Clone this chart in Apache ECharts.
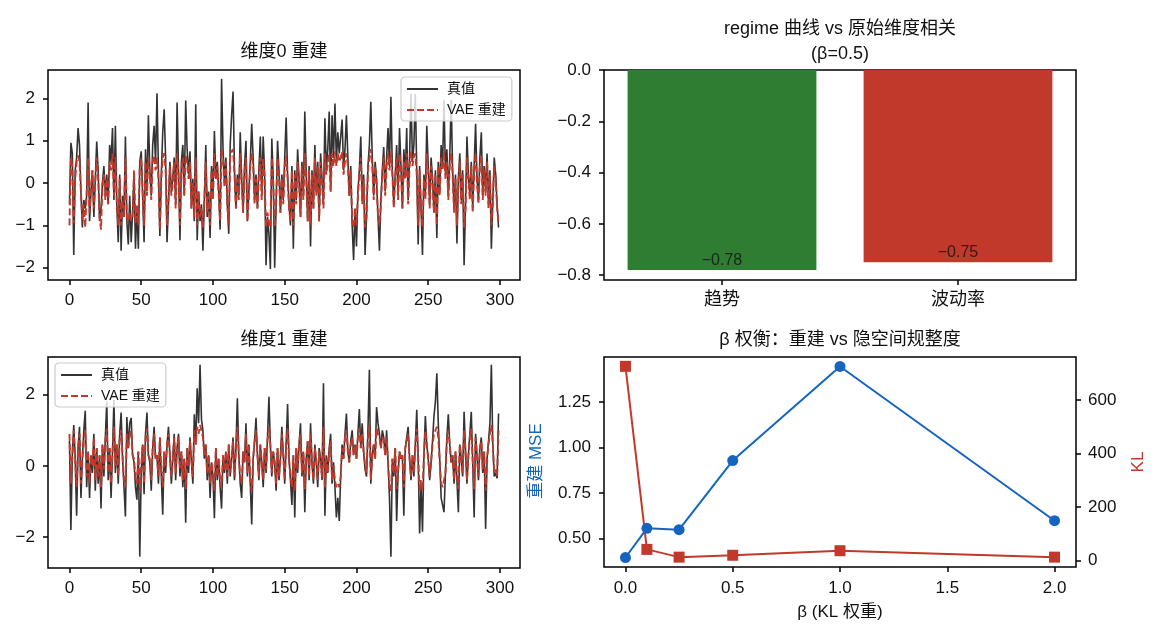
<!DOCTYPE html>
<html>
<head>
<meta charset="utf-8">
<script src="https://cdn.jsdelivr.net/npm/echarts@6/dist/echarts.min.js"></script>
<style>
html, body { margin: 0; padding: 0; background: #fff; }
#main { width: 1160px; height: 637px; }
</style>
</head>
<body>
<div id="main"></div>
<script>
// 维度0 真值 / 重建
var dim0True = [
    -0.5, 0.95, 0.7, -1.7, 0.3, 0.6, 1.3, 0.9, -0.2, -1.05,
    -0.4, -0.6, -0.3, 1.9, -0.9, -0.2, 0.3, -0.8, 0.1, 0.98,
    0.3, -0.9, -0.6, 0.0, 0.4, -0.3, 0.2, -0.5, 0.9, 0.5,
    1.3, -0.4, 1.35, -0.5, -1.4, 0.2, -1.6, -0.3, -0.8, 1.1,
    -0.9, -1.45, -0.3, -1.4, -0.7, 0.2, -1.55, -0.6, -1.55, 0.5,
    0.75, -0.3, -1.4, 0.8, -0.2, 1.6, 0.3, -0.3, 0.9, 1.35,
    0.5, 2.12, 0.3, -1.25, 0.2, 1.2, 1.74, 0.6, -1.4, -0.5,
    0.5, -0.2, 0.1, 0.6, -0.5, 1.9, 0.3, -1.35, 0.5, 0.9,
    -0.3, 1.95, 0.8, 0.2, 0.75, -0.6, 0.1, -0.9, 1.86, -1.35,
    -0.2, -0.9, -0.5, -1.6, -0.4, 0.9, -0.8, -0.2, -1.3, 0.4,
    -0.3, 1.23, 0.1, 0.5, -0.2, -1.1, 2.46, 0.8, 0.0, 0.6,
    -0.5, -1.2, 0.9, 1.6, 2.16, 0.3, -0.6, 0.2, -0.3, 1.2,
    0.1, -0.7, 0.4, 1.0, -0.9, -0.2, 0.5, 1.4, 0.6, -0.4,
    0.2, -0.6, 0.3, 1.1, -0.3, 1.1, 0.2, -1.94, -0.8, -1.2,
    -2.03, 1.05, 0.1, -2.0, -0.5, 1.0, 0.3, -0.7, 0.2, -0.4,
    0.6, 1.55, 0.2, -0.5, -1.0, 0.4, -1.55, 0.3, -0.4, 0.8,
    0.1, -0.8, 0.5, -0.3, 1.69, 0.2, -0.9, 0.4, -1.5, 0.3,
    -0.6, 0.9, -0.2, 0.5, -0.9, 0.7, 0.1, -0.5, 1.53, 0.3,
    0.8, 1.69, -0.2, 1.6, 0.6, 1.88, 0.5, 1.2, 0.7, 1.1,
    1.5, 0.3, 0.8, 1.6, 0.6, -0.3, 0.4, -1.0, -1.82, -0.6,
    -1.5, -0.2, 0.3, 1.1, -0.4, 0.2, -1.7, -0.8, 0.4, 0.9,
    1.92, 0.6, -0.3, 0.5, 0.1, -0.8, -1.6, -0.4, 0.3, 0.85,
    -0.2, 0.6, 1.3, 0.4, 2.04, 0.3, -0.5, 0.2, 0.9, -0.3,
    1.3, 0.4, -0.6, 0.8, 0.2, 1.3, -0.4, 0.6, 2.1, 0.5,
    0.9, 2.1, 0.3, -1.45, 0.4, -0.6, -1.7, 0.2, -0.3, 1.35,
    0.4, -0.5, 0.6, 0.1, -0.7, 0.3, -1.3, 0.5, -0.2, 0.9,
    0.4, 1.96, 0.2, 0.8, -0.3, 0.6, 1.96, 0.3, -0.6, 0.2,
    -1.43, 0.1, 0.7, -0.4, 0.3, -1.94, -0.5, 1.1, 0.2, -0.3,
    0.5, -0.6, 0.4, 1.4, 0.1, -0.4, 0.6, 1.2, -0.3, 0.4,
    -0.2, 0.7, -0.5, 0.3, -1.55, -0.4, 0.6, 0.2, -0.5, -1.05
];
var dim0Recon = [
    -1.0, 0.6, 0.4, -0.95, 0.1, 0.5, 0.65, 0.5, -0.2, -0.9,
    -0.5, -1.05, -0.2, 0.6, -0.7, -0.1, 0.3, -0.6, 0.0, 0.6,
    0.1, -0.8, -1.1, 0.0, 0.2, -0.4, 0.1, -0.5, 0.5, 0.3,
    0.7, -0.3, 0.6, -0.5, -1.0, 0.1, -1.0, -0.4, -0.8, 0.6,
    -0.8, -0.9, -0.7, -0.9, -0.8, 0.3, -0.95, -0.5, -1.0, 0.4,
    0.6, -0.2, -1.0, 0.5, -0.3, 0.6, 0.2, -0.4, 0.5, 0.65,
    0.3, 0.6, 0.1, -1.1, 0.1, 0.6, 0.7, 0.3, -1.0, -0.4,
    0.4, -0.3, 0.0, 0.5, -0.6, 0.7, 0.2, -1.0, 0.3, 0.6,
    -0.3, 0.65, 0.5, 0.1, 0.5, -0.6, 0.0, -0.8, 0.6, -1.0,
    -0.2, -0.8, -0.6, -1.05, -0.4, 0.5, -0.7, -0.3, -1.0, 0.3,
    -0.4, 0.7, 0.1, 0.4, -0.3, -0.9, 0.8, 0.6, -0.1, 0.5,
    -0.5, -1.0, 0.6, 0.75, 0.8, 0.2, -0.6, 0.1, -0.4, 0.7,
    0.0, -0.7, 0.3, 0.6, -0.9, -0.3, 0.4, 0.7, 0.4, -0.5,
    0.1, -0.6, 0.2, 0.6, -0.4, 0.6, 0.1, -1.05, -0.7, -1.0,
    -1.05, 0.6, 0.0, -1.05, -0.5, 0.6, 0.2, -0.7, 0.1, -0.5,
    0.4, 0.65, 0.1, -0.6, -0.9, 0.3, -1.0, 0.2, -0.5, 0.5,
    0.0, -0.8, 0.4, -0.4, 0.7, 0.1, -0.9, 0.3, -1.0, 0.2,
    -0.6, 0.6, -0.3, 0.4, -0.9, 0.5, 0.0, -0.6, 0.7, 0.2,
    0.5, 0.7, -0.2, 0.7, 0.4, 0.75, 0.4, 0.7, 0.5, 0.6,
    0.75, 0.2, 0.5, 0.7, 0.4, -0.3, 0.3, -0.9, -1.05, -0.6,
    -1.0, -0.3, 0.2, 0.6, -0.5, 0.1, -1.05, -0.8, 0.3, 0.6,
    0.8, 0.4, -0.4, 0.4, 0.0, -0.8, -1.0, -0.5, 0.2, 0.6,
    -0.3, 0.4, 0.7, 0.3, 0.75, 0.2, -0.6, 0.1, 0.6, -0.4,
    0.7, 0.3, -0.6, 0.5, 0.1, 0.7, -0.5, 0.4, 0.75, 0.4,
    0.6, 0.7, 0.2, -1.0, 0.3, -0.6, -1.05, 0.1, -0.4, 0.7,
    0.3, -0.6, 0.4, 0.0, -0.7, 0.2, -1.0, 0.4, -0.3, 0.6,
    0.3, 0.75, 0.1, 0.5, -0.4, 0.4, 0.7, 0.2, -0.7, 0.1,
    -1.0, 0.0, 0.5, -0.5, 0.2, -1.05, -0.6, 0.6, 0.1, -0.4,
    0.4, -0.7, 0.3, 0.7, 0.0, -0.5, 0.4, 0.65, -0.4, 0.3,
    -0.3, 0.5, -0.6, 0.2, -1.0, -0.5, 0.4, 0.1, -0.6, -0.95
];
// 维度1 真值 / 重建
var dim1True = [
    0.7, -1.8, 0.3, 1.15, 0.2, -1.4, 0.5, 1.1, -0.9, 0.2,
    1.0, 1.55, -0.6, 0.4, -0.9, 0.3, -0.2, 0.9, -0.7, 0.5,
    -0.5, 0.3, -1.2, 0.6, -0.3, 0.8, 1.8, -0.4, 0.5, -0.9,
    0.4, 1.85, -0.2, 0.6, -0.5, 0.9, 1.5, 0.2, -0.6, -1.42,
    1.37, 0.5, 1.2, 1.35, 0.3, 0.1, -0.6, -0.95, 0.4, -2.55,
    -0.2, 0.6, -0.8, 0.9, 1.5, 0.3, 0.1, -0.7, 0.5, 1.1,
    0.2, 0.3, -0.5, 0.8, -0.3, -1.37, 0.4, -0.2, 0.6, 1.1,
    0.3, -0.5, 0.2, 0.9, -0.4, 0.5, 0.9, -0.3, 0.4, -0.6,
    0.2, -1.6, 0.5, -0.2, 0.8, 0.1, -0.5, 1.45, 0.6, 2.18,
    1.2, 2.84, 1.3, 1.0, 0.2, 0.6, -0.4, 0.3, -0.9, 0.1,
    -0.3, -1.47, 0.5, -0.4, 0.2, -0.6, -1.2, 0.3, -0.2, 0.4,
    -0.5, 0.6, -0.3, 0.2, 0.8, -0.4, 0.5, 1.9, 0.3, -0.5,
    -0.9, 0.4, 0.1, 1.2, -0.3, 0.6, -0.5, -1.65, 0.2, 0.7,
    1.35, 0.3, -0.4, 0.6, 0.1, -0.6, 0.5, -0.2, 0.8, 1.94,
    0.6, -0.3, 0.4, 0.1, -0.7, 0.5, -0.4, 0.2, 1.1, 0.3,
    -0.5, 0.6, 1.74, 0.2, -0.4, -1.1, 0.3, -1.45, 0.5, -0.2,
    0.6, 1.2, -0.3, 0.4, -1.3, 0.2, 0.7, -0.4, 1.2, 0.1,
    -0.5, 0.6, 0.1, -0.6, 0.5, 0.2, -0.4, 2.32, -1.4, 0.3,
    -0.2, 0.5, 0.9, -0.5, 0.1, -0.6, -1.45, -0.9, -1.55, -0.3,
    0.6, 0.2, 0.9, 1.47, 0.4, 0.1, 0.7, 1.0, 0.3, 0.6,
    0.2, 0.9, 1.6, 0.5, 1.2, 0.4, -0.1, -0.3, 1.0, 2.7,
    -0.5, 0.3, 0.6, 0.2, 1.65, 1.2, 0.9, 0.5, 1.0, 0.8,
    0.3, 1.0, 0.1, -0.9, -2.55, 0.2, -0.3, 0.5, -1.55, -0.2,
    0.4, 0.2, 0.3, -1.4, 0.5, 0.8, 1.1, 0.2, -0.4, 0.3,
    -0.3, 0.6, 1.58, 0.2, -1.9, -0.5, -1.85, 0.3, 1.4, 0.6,
    0.2, -0.4, 0.1, 0.7, 1.4, 1.8, 2.6, 1.2, 0.2, -0.9,
    -0.9, -1.3, -0.2, 0.8, 1.45, 0.6, 0.1, 0.3, -0.5, 0.4,
    -0.4, -1.3, 0.6, 0.2, -0.3, 1.52, 0.4, -0.5, 0.3, 0.9,
    1.52, 0.1, -1.45, 0.9, 0.3, -0.4, 0.5, 0.8, -0.2, 0.4,
    -1.77, 0.2, 0.7, 1.2, 2.84, 0.6, -0.3, -0.2, -0.35, 1.47
];
var dim1Recon = [
    0.9, -0.5, 0.3, 1.0, 0.2, -0.6, 0.5, 0.9, -0.5, 0.2,
    0.7, 1.0, -0.3, 0.4, -0.5, 0.3, 0.0, 0.8, -0.4, 0.5,
    -0.3, 0.3, -0.6, 0.6, -0.1, 0.7, 1.05, -0.2, 0.5, -0.5,
    0.4, 1.1, 0.0, 0.6, -0.3, 0.8, 1.0, 0.3, -0.4, -0.6,
    0.9, 0.5, 0.9, 1.0, 0.3, 0.2, -0.3, -0.5, 0.4, -0.7,
    0.0, 0.6, -0.5, 0.8, 1.05, 0.3, 0.2, -0.4, 0.5, 0.9,
    0.2, 0.3, -0.3, 0.8, -0.1, -0.6, 0.4, 0.0, 0.6, 0.9,
    0.3, -0.3, 0.2, 0.8, -0.2, 0.5, 0.8, -0.1, 0.4, -0.4,
    0.2, -0.65, 0.5, 0.0, 0.7, 0.2, -0.3, 1.0, 0.6, 1.1,
    0.9, 1.15, 1.0, 0.8, 0.3, 0.6, -0.2, 0.3, -0.5, 0.1,
    -0.2, -0.7, 0.5, -0.3, 0.2, -0.4, -0.6, 0.3, -0.1, 0.4,
    -0.3, 0.6, -0.2, 0.2, 0.7, -0.3, 0.5, 1.1, 0.3, -0.3,
    -0.5, 0.4, 0.1, 0.9, -0.2, 0.6, -0.4, -0.7, 0.2, 0.7,
    1.0, 0.3, -0.3, 0.6, 0.1, -0.4, 0.5, -0.1, 0.7, 1.1,
    0.6, -0.2, 0.4, 0.1, -0.5, 0.5, -0.3, 0.2, 0.9, 0.3,
    -0.4, 0.6, 1.05, 0.2, -0.3, -0.6, 0.3, -0.7, 0.5, -0.1,
    0.6, 0.9, -0.2, 0.4, -0.65, 0.2, 0.7, -0.3, 0.9, 0.1,
    -0.4, 0.5, 0.1, -0.4, 0.4, 0.1, -0.3, 1.1, -0.6, 0.2,
    -0.2, 0.4, 0.7, -0.4, 0.0, -0.4, -0.6, -0.5, -0.6, -0.3,
    0.5, 0.2, 0.8, 1.0, 0.4, 0.1, 0.6, 0.8, 0.3, 0.6,
    0.2, 0.8, 1.05, 0.5, 0.9, 0.4, 0.0, -0.2, 0.8, 1.15,
    -0.4, 0.3, 0.6, 0.2, 1.05, 0.9, 0.8, 0.5, 0.8, 0.7,
    0.3, 0.8, 0.1, -0.6, -0.7, 0.2, -0.2, 0.5, -0.65, -0.1,
    0.4, 0.2, 0.3, -0.6, 0.5, 0.7, 0.9, 0.2, -0.3, 0.3,
    -0.2, 0.6, 1.05, 0.2, -0.7, -0.4, -0.7, 0.3, 1.0, 0.6,
    0.2, -0.3, 0.1, 0.6, 0.9, 1.0, 1.1, 0.8, 0.1, -0.5,
    -0.6, -0.6, -0.2, 0.7, 1.0, 0.6, 0.1, 0.3, -0.4, 0.4,
    -0.3, -0.65, 0.6, 0.2, -0.2, 1.0, 0.4, -0.4, 0.3, 0.8,
    1.05, 0.1, -0.65, 0.8, 0.3, -0.3, 0.5, 0.7, -0.1, 0.4,
    -0.7, 0.2, 0.6, 0.9, 1.15, 0.6, -0.2, -0.1, -0.3, 1.0
];

// regime 相关
var barNames = ['趋势', '波动率'];
var barValues = [-0.78, -0.75];

// β 权衡
var betas = [0, 0.1, 0.25, 0.5, 1.0, 2.0];
var mseValues = [0.397, 0.557, 0.55, 0.929, 1.445, 0.599];
var klValues = [727, 41, 12, 19, 36, 12];

// 刻度
var stepTicks = [0, 50, 100, 150, 200, 250, 300];
var dim0Ticks = [-2, -1, 0, 1, 2];
var dim1Ticks = [-2, 0, 2];
var barTicks = [0, -0.2, -0.4, -0.6, -0.8];
var betaTicks = [0, 0.5, 1.0, 1.5, 2.0];
var mseTicks = [0.5, 0.75, 1.0, 1.25];
var klTicks = [0, 200, 400, 600];

var FONT = "'Liberation Sans', 'Noto Sans CJK SC', sans-serif";
var BLACK = '#333333';
var RED = '#c0392b';
var GREEN = '#2e7d32';
var BLUE = '#1565c0';
var TICK_SIZE = 17;

function toPairs(xs, ys) {
    return ys.map(function (v, i) { return [xs ? xs[i] : i, v]; });
}
function fmt(d) {
    return function (v) { return Number(v).toFixed(d).replace('-', '\u2212'); };
}

function valAxis(grid, min, max, ticks, digits, margin, extra) {
    var a = {
        type: 'value', gridIndex: grid, min: min, max: max,
        splitLine: {show: false},
        axisLine: {show: false, onZero: false},
        axisTick: {show: true, length: 5, inside: false, customValues: ticks, lineStyle: {color: '#000', width: 1.5}},
        axisLabel: {customValues: ticks, formatter: fmt(digits), color: '#111', fontSize: TICK_SIZE, fontFamily: FONT, margin: margin}
    };
    for (var k in extra) a[k] = extra[k];
    return a;
}

function grid(l, t, w, h) {
    return {left: l, top: t, width: w, height: h, show: true, borderColor: '#000', borderWidth: 1.5, backgroundColor: 'transparent'};
}

function titleText(text, x, y, lh) {
    return {text: text, left: x, top: y, textAlign: 'center', padding: 0,
        textStyle: {fontSize: 18, fontWeight: 'normal', color: '#111', fontFamily: FONT, lineHeight: lh || 22}};
}

var legendCommon = {
    orient: 'vertical',
    data: ['真值', 'VAE 重建'],
    backgroundColor: 'rgba(255,255,255,0.8)',
    borderColor: '#cccccc',
    borderWidth: 1.2,
    borderRadius: 4,
    padding: [5, 6, 4, 5],
    itemGap: 7,
    itemWidth: 31,
    itemHeight: 14,
    itemStyle: {opacity: 0},
    textStyle: {fontSize: 14, fontFamily: FONT, color: '#111', padding: [0, 0, 0, 4]}
};

var option = {
    animation: false,
    backgroundColor: '#fff',
    textStyle: {fontFamily: FONT},
    title: [
        titleText('维度0 重建', 284, 41),
        titleText('维度1 重建', 284, 329),
        titleText('regime 曲线 vs 原始维度相关\n(β=0.5)', 840, 17, 25),
        titleText('β 权衡：重建 vs 隐空间规整度', 840, 329)
    ],
    legend: [
        Object.assign({left: 401, top: 77}, legendCommon),
        Object.assign({left: 55, top: 363}, legendCommon)
    ],
    grid: [
        grid(48, 70, 472, 210),
        grid(48, 357, 472, 211),
        grid(604, 70, 472, 210),
        grid(604, 357, 472, 210)
    ],
    xAxis: [
        valAxis(0, -14.95, 313.95, stepTicks, 0, 12),
        valAxis(1, -14.95, 313.95, stepTicks, 0, 12),
        {
            type: 'category', gridIndex: 2, data: barNames, boundaryGap: true,
            axisLine: {show: false, onZero: false},
            axisTick: {show: true, alignWithLabel: true, length: 5, lineStyle: {color: '#000', width: 1.5}},
            axisLabel: {color: '#111', fontSize: 18, fontFamily: FONT, margin: 11},
            splitLine: {show: false}
        },
        valAxis(3, -0.1, 2.1, betaTicks, 1, 13)
    ],
    yAxis: [
        valAxis(0, -2.29, 2.67, dim0Ticks, 0, 13),
        valAxis(1, -2.87, 3.06, dim1Ticks, 0, 13),
        valAxis(2, -0.819, 0, barTicks, 1, 13),
        valAxis(3, 0.345, 1.497, mseTicks, 2, 13),
        valAxis(3, -25, 762, klTicks, 0, 12, {position: 'right'})
    ],
    graphic: [
        {type: 'text', x: 536, y: 461, rotation: Math.PI / 2,
            style: {text: '重建 MSE', fill: BLUE, font: '17px ' + FONT, textAlign: 'center', textVerticalAlign: 'middle'}},
        {type: 'text', x: 1138, y: 462, rotation: Math.PI / 2,
            style: {text: 'KL', fill: RED, font: '17px ' + FONT, textAlign: 'center', textVerticalAlign: 'middle'}},
        {type: 'text', x: 840, y: 612,
            style: {text: 'β (KL 权重)', fill: '#111', font: '17px ' + FONT, textAlign: 'center', textVerticalAlign: 'middle'}}
    ],
    series: [
        {name: '真值', type: 'line', xAxisIndex: 0, yAxisIndex: 0, data: toPairs(null, dim0True),
            symbol: 'none', lineStyle: {color: BLACK, width: 1.6}, itemStyle: {color: BLACK}},
        {name: 'VAE 重建', type: 'line', xAxisIndex: 0, yAxisIndex: 0, data: toPairs(null, dim0Recon),
            symbol: 'none', lineStyle: {color: RED, width: 1.9, type: [7, 3]}, itemStyle: {color: RED}},
        {name: '真值', type: 'line', xAxisIndex: 1, yAxisIndex: 1, data: toPairs(null, dim1True),
            symbol: 'none', lineStyle: {color: BLACK, width: 1.6}, itemStyle: {color: BLACK}},
        {name: 'VAE 重建', type: 'line', xAxisIndex: 1, yAxisIndex: 1, data: toPairs(null, dim1Recon),
            symbol: 'none', lineStyle: {color: RED, width: 1.9, type: [7, 3]}, itemStyle: {color: RED}},
        {type: 'bar', xAxisIndex: 2, yAxisIndex: 2, barWidth: '80%',
            data: barValues.map(function (v, i) {
                return {value: v, itemStyle: {color: i === 0 ? GREEN : RED}};
            })},
        {type: 'scatter', xAxisIndex: 2, yAxisIndex: 2, symbolSize: 1, z: 5,
            itemStyle: {color: 'rgba(0,0,0,0)'},
            data: barValues.map(function (v, i) { return [i, v]; }),
            label: {show: true, position: 'top', distance: 1, color: '#111', fontSize: 16, fontFamily: FONT,
                formatter: function (p) { return p.value[1].toFixed(2).replace('-', '\u2212'); }}},
        {type: 'line', xAxisIndex: 3, yAxisIndex: 3, data: toPairs(betas, mseValues),
            symbol: 'circle', symbolSize: 11, lineStyle: {color: BLUE, width: 2}, itemStyle: {color: BLUE}},
        {type: 'line', xAxisIndex: 3, yAxisIndex: 4, data: toPairs(betas, klValues),
            symbol: 'rect', symbolSize: 11, lineStyle: {color: RED, width: 2}, itemStyle: {color: RED}}
    ]
};

var myChart = echarts.init(document.getElementById('main'));
myChart.setOption(option);
</script>
</body>
</html>
